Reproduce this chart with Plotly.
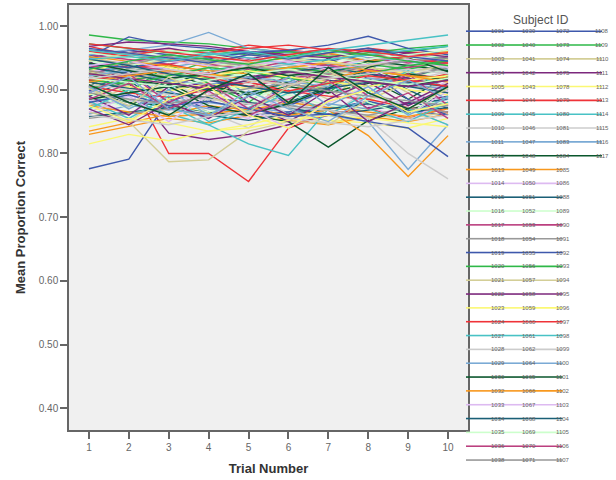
import plotly.graph_objects as go

trials = [1, 2, 3, 4, 5, 6, 7, 8, 9, 10]
tick_vals_y = [0.40, 0.50, 0.60, 0.70, 0.80, 0.90, 1.00]
tick_text_y = ["0.40", "0.50", "0.60", "0.70", "0.80", "0.90", "1.00"]

subject_ids = [
    1001, 1002, 1003, 1004, 1005, 1008, 1009, 1010, 1011, 1012, 1013, 1014, 1015, 1016, 1017, 1018,
    1019, 1020, 1021, 1022, 1023, 1024, 1027, 1028, 1029, 1030, 1032, 1033, 1034, 1035, 1036, 1038,
    1039, 1040, 1041, 1042, 1043, 1044, 1045, 1046, 1047, 1048, 1049, 1050, 1051, 1052, 1053, 1054,
    1055, 1056, 1057, 1058, 1059, 1060, 1061, 1062, 1064, 1065, 1066, 1067, 1068, 1069, 1070, 1071,
    1072, 1073, 1074, 1075, 1078, 1079, 1080, 1081, 1083, 1084, 1085, 1086, 1088, 1089, 1090, 1091,
    1092, 1093, 1094, 1095, 1096, 1097, 1098, 1099, 1100, 1101, 1102, 1103, 1104, 1105, 1106, 1107,
    1108, 1109, 1110, 1111, 1112, 1113, 1114, 1115, 1116, 1117,
]

# mean proportion correct per subject, trials 1..10
accuracy = [
    [.950, .962, .955, .948, .960, .952, .958, .945, .950, .962],  # 1001
    [.986, .978, .975, .972, .965, .958, .962, .955, .960, .968],  # 1002
    [.915, .880, .925, .895, .870, .912, .885, .930, .895, .910],  # 1003
    [.945, .910, .832, .822, .830, .845, .860, .872, .880, .890],  # 1004
    [.900, .930, .885, .915, .940, .895, .925, .880, .918, .935],  # 1005
    [.930, .917, .800, .800, .756, .840, .862, .870, .855, .872],  # 1008
    [.925, .935, .918, .930, .940, .925, .932, .945, .928, .938],  # 1009
    [.880, .850, .895, .865, .840, .885, .860, .900, .870, .845],  # 1010
    [.862, .875, .868, .880, .872, .865, .878, .870, .885, .872],  # 1011
    [.905, .945, .910, .880, .935, .905, .950, .918, .885, .922],  # 1012
    [.830, .842, .855, .848, .860, .852, .845, .858, .850, .862],  # 1013
    [.932, .925, .940, .918, .930, .922, .935, .928, .940, .925],  # 1014
    [.890, .915, .870, .898, .925, .880, .905, .935, .900, .870],  # 1015
    [.912, .925, .918, .930, .922, .915, .928, .935, .920, .932],  # 1016
    [.955, .948, .940, .952, .935, .945, .938, .950, .942, .948],  # 1017
    [.875, .885, .870, .862, .878, .885, .872, .880, .868, .875],  # 1018
    [.776, .791, .885, .872, .860, .865, .870, .882, .868, .860],  # 1019
    [.940, .932, .925, .945, .950, .938, .930, .942, .955, .948],  # 1020
    [.865, .850, .787, .790, .835, .850, .848, .860, .855, .865],  # 1021
    [.962, .958, .965, .955, .948, .960, .952, .945, .958, .950],  # 1022
    [.815, .830, .820, .835, .845, .860, .852, .848, .840, .855],  # 1023
    [.968, .955, .962, .958, .970, .962, .955, .965, .958, .960],  # 1024
    [.905, .885, .862, .845, .815, .797, .870, .880, .862, .890],  # 1027
    [.900, .872, .915, .880, .905, .860, .910, .885, .925, .895],  # 1028
    [.938, .928, .935, .945, .930, .940, .925, .935, .945, .932],  # 1029
    [.895, .880, .875, .865, .860, .850, .810, .852, .870, .880],  # 1030
    [.945, .955, .948, .935, .942, .950, .958, .945, .952, .960],  # 1032
    [.885, .860, .900, .870, .855, .895, .915, .875, .850, .888],  # 1033
    [.920, .912, .905, .925, .918, .930, .915, .905, .920, .935],  # 1034
    [.870, .885, .878, .865, .880, .892, .875, .868, .885, .878],  # 1035
    [.925, .938, .930, .922, .915, .928, .940, .932, .925, .918],  # 1036
    [.912, .905, .898, .915, .920, .908, .902, .915, .908, .895],  # 1038
    [.952, .983, .970, .965, .958, .950, .945, .955, .948, .940],  # 1039
    [.925, .895, .940, .910, .880, .925, .895, .940, .905, .925],  # 1040
    [.950, .940, .945, .952, .938, .945, .955, .942, .935, .948],  # 1041
    [.935, .925, .915, .905, .920, .930, .912, .925, .918, .905],  # 1042
    [.930, .942, .935, .925, .938, .930, .945, .935, .925, .940],  # 1043
    [.948, .935, .940, .928, .915, .925, .935, .920, .912, .925],  # 1044
    [.915, .945, .900, .935, .890, .912, .940, .895, .930, .900],  # 1045
    [.940, .932, .925, .935, .945, .938, .930, .940, .935, .928],  # 1046
    [.955, .962, .970, .990, .965, .958, .962, .950, .945, .955],  # 1047
    [.918, .935, .928, .905, .895, .912, .925, .945, .938, .930],  # 1048
    [.835, .848, .862, .875, .868, .880, .872, .865, .858, .870],  # 1049
    [.905, .880, .925, .895, .870, .910, .935, .890, .875, .915],  # 1050
    [.858, .865, .872, .860, .852, .862, .870, .878, .865, .872],  # 1051
    [.945, .938, .950, .942, .935, .945, .952, .940, .948, .955],  # 1052
    [.920, .912, .928, .915, .905, .918, .925, .912, .905, .915],  # 1053
    [.930, .922, .915, .928, .935, .925, .918, .930, .922, .935],  # 1054
    [.898, .930, .880, .905, .925, .875, .900, .930, .885, .860],  # 1055
    [.972, .965, .958, .962, .955, .960, .952, .958, .965, .970],  # 1056
    [.878, .905, .860, .890, .915, .870, .845, .885, .910, .895],  # 1057
    [.968, .975, .972, .968, .960, .955, .950, .962, .958, .952],  # 1058
    [.892, .905, .898, .910, .902, .895, .908, .915, .900, .892],  # 1059
    [.905, .895, .888, .900, .912, .898, .890, .885, .872, .865],  # 1060
    [.882, .855, .890, .850, .872, .900, .860, .895, .870, .845],  # 1061
    [.920, .935, .928, .918, .910, .925, .932, .920, .915, .928],  # 1062
    [.888, .875, .882, .870, .865, .878, .860, .850, .775, .845],  # 1064
    [.928, .915, .908, .900, .892, .905, .895, .910, .925, .915],  # 1065
    [.875, .865, .858, .862, .870, .860, .868, .828, .764, .828],  # 1066
    [.948, .955, .945, .938, .950, .942, .935, .948, .955, .945],  # 1067
    [.912, .902, .895, .888, .880, .872, .860, .868, .878, .885],  # 1068
    [.895, .870, .912, .930, .885, .905, .935, .880, .860, .905],  # 1069
    [.935, .945, .952, .940, .932, .945, .938, .928, .935, .942],  # 1070
    [.855, .862, .870, .858, .865, .875, .868, .860, .872, .865],  # 1071
    [.940, .935, .945, .950, .958, .962, .970, .984, .965, .955],  # 1072
    [.902, .915, .925, .918, .930, .935, .928, .940, .932, .945],  # 1073
    [.928, .918, .925, .935, .942, .930, .922, .935, .928, .938],  # 1074
    [.890, .860, .905, .925, .880, .850, .885, .912, .875, .905],  # 1075
    [.842, .855, .848, .835, .840, .852, .860, .855, .848, .842],  # 1078
    [.960, .952, .945, .958, .965, .970, .962, .955, .948, .942],  # 1079
    [.870, .900, .875, .845, .868, .895, .910, .870, .850, .880],  # 1080
    [.908, .900, .892, .885, .878, .872, .868, .855, .800, .760],  # 1081
    [.922, .930, .915, .908, .920, .912, .905, .918, .910, .900],  # 1083
    [.885, .895, .905, .875, .862, .878, .902, .935, .950, .928],  # 1084
    [.952, .945, .938, .930, .925, .935, .942, .930, .922, .918],  # 1085
    [.865, .890, .850, .892, .870, .840, .880, .905, .860, .898],  # 1086
    [.935, .925, .912, .900, .915, .928, .935, .925, .912, .905],  # 1088
    [.958, .950, .962, .955, .945, .952, .960, .948, .955, .962],  # 1089
    [.895, .925, .880, .910, .870, .905, .935, .890, .925, .875],  # 1090
    [.948, .940, .952, .945, .938, .930, .925, .938, .945, .950],  # 1091
    [.880, .892, .875, .882, .870, .858, .862, .850, .840, .795],  # 1092
    [.915, .908, .922, .935, .928, .918, .910, .925, .938, .945],  # 1093
    [.945, .958, .950, .940, .955, .948, .942, .938, .950, .958],  # 1094
    [.870, .845, .880, .855, .890, .860, .900, .850, .880, .910],  # 1095
    [.925, .918, .910, .922, .930, .920, .912, .905, .915, .922],  # 1096
    [.915, .925, .932, .920, .905, .898, .910, .922, .915, .905],  # 1097
    [.962, .955, .948, .958, .950, .940, .948, .955, .962, .968],  # 1098
    [.860, .852, .845, .858, .866, .855, .848, .842, .852, .860],  # 1099
    [.905, .870, .900, .860, .890, .920, .875, .905, .860, .888],  # 1100
    [.942, .930, .918, .925, .935, .922, .930, .912, .905, .918],  # 1101
    [.912, .922, .930, .925, .915, .908, .918, .930, .922, .912],  # 1102
    [.938, .945, .932, .925, .940, .945, .932, .940, .948, .935],  # 1103
    [.948, .938, .925, .915, .905, .895, .902, .912, .905, .895],  # 1104
    [.918, .912, .905, .915, .925, .932, .922, .915, .908, .918],  # 1105
    [.885, .910, .870, .898, .860, .885, .915, .870, .895, .855],  # 1106
    [.895, .885, .878, .890, .902, .910, .898, .890, .882, .875],  # 1107
    [.965, .958, .950, .942, .955, .948, .958, .965, .952, .945],  # 1108
    [.932, .945, .955, .948, .940, .952, .962, .955, .945, .938],  # 1109
    [.902, .875, .920, .890, .865, .905, .930, .895, .870, .902],  # 1110
    [.925, .918, .910, .902, .915, .928, .920, .912, .905, .915],  # 1111
    [.875, .850, .885, .905, .860, .840, .882, .900, .865, .878],  # 1112
    [.972, .965, .958, .952, .945, .955, .965, .960, .952, .958],  # 1113
    [.948, .952, .945, .955, .960, .950, .962, .970, .978, .986],  # 1114
    [.918, .925, .932, .922, .915, .908, .918, .925, .932, .925],  # 1115
    [.895, .920, .870, .860, .898, .870, .850, .890, .915, .885],  # 1116
    [.908, .880, .860, .900, .925, .880, .935, .895, .870, .905],  # 1117
]

palette = [
    "#3E58AC", "#2EB848", "#D3CE97", "#7C287D", "#FBF873", "#EF3338", "#48C2C5", "#CCCCCC",
    "#7AAAD5", "#0A562C", "#F8981D", "#DDBAF1", "#1A5F76", "#CCFFCC", "#BB3F7F", "#999999",
]

FONT = "Arial, Liberation Sans, sans-serif"

fig = go.Figure()
for i, (sid, vals) in enumerate(zip(subject_ids, accuracy)):
    fig.add_trace(go.Scatter(
        x=trials, y=vals, mode="lines", name=str(sid),
        line=dict(color=palette[i % len(palette)], width=1.4),
        showlegend=False, hoverinfo="skip",
    ))

# ---- custom SPSS-style legend (column-major, labels sitting on the line samples) ----
W, H = 616, 480
L, R, T, B = 69, 148, 3, 50
pw, ph = W - L - R, H - T - B


def px_to_paper_x(px):
    return (px - L) / pw


def px_to_paper_y(py):
    return (H - B - py) / ph


rows_per_col = 32
col_centers = [497.7, 528.5, 562.7, 602.0]
row_top, row_step = 29.3, 13.9
shapes, annotations = [], []
for i, sid in enumerate(subject_ids):
    c, r = divmod(i, rows_per_col)
    y = px_to_paper_y(row_top + row_step * r)
    start = 466 if c == 0 else col_centers[c - 1]
    shapes.append(dict(
        type="line", xref="paper", yref="paper",
        x0=px_to_paper_x(start), x1=px_to_paper_x(col_centers[c]), y0=y, y1=y,
        line=dict(color=palette[i % len(palette)], width=1.6), layer="above",
    ))
    annotations.append(dict(
        x=px_to_paper_x(col_centers[c]), y=y, xref="paper", yref="paper",
        text=str(sid), showarrow=False, xanchor="center", yanchor="middle",
        font=dict(family=FONT, size=6, color="#666666"),
    ))

annotations.append(dict(
    x=px_to_paper_x(541), y=px_to_paper_y(18), xref="paper", yref="paper",
    text="Subject ID", showarrow=False, xanchor="center", yanchor="middle",
    font=dict(family=FONT, size=12, color="#555555"),
))

fig.update_layout(
    width=W, height=H,
    margin=dict(l=L, r=R, t=T, b=B),
    paper_bgcolor="white",
    plot_bgcolor="#F0F0F0",
    font=dict(family=FONT, color="#555555"),
    shapes=shapes,
    annotations=annotations,
    xaxis=dict(
        range=[0.5, 10.5], tickvals=trials, ticks="outside", ticklen=7, tickwidth=1.5,
        tickcolor="#666666", showline=True, linecolor="#666666", linewidth=1.5, mirror=True,
        showgrid=False, zeroline=False, tickfont=dict(size=10, color="#666666"),
        title=dict(text="<b>Trial Number</b>", font=dict(size=13, color="#333333"), standoff=12),
    ),
    yaxis=dict(
        range=[0.366, 1.033], tickvals=tick_vals_y, ticktext=tick_text_y, ticks="outside",
        ticklen=7, tickwidth=1.5, tickcolor="#666666", showline=True, linecolor="#666666",
        linewidth=1.5, mirror=True, showgrid=False, zeroline=False,
        tickfont=dict(size=10, color="#666666"),
        title=dict(text="<b>Mean Proportion Correct</b>", font=dict(size=13, color="#333333"), standoff=10),
    ),
)

fig.write_html("out.html")
